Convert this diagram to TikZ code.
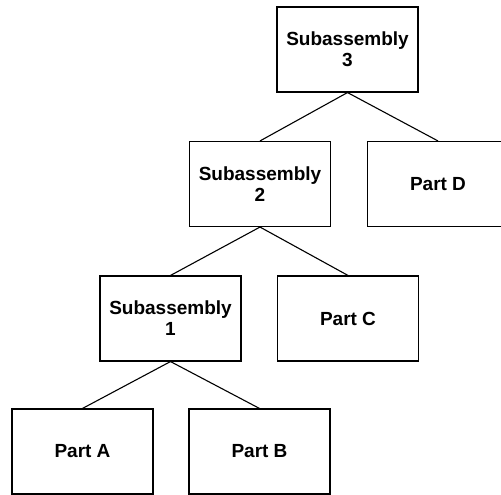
\documentclass[tikz,border=0pt]{standalone}
\usepackage{fontspec}
\setmainfont{Liberation Sans}
\begin{document}
\begin{tikzpicture}[x=1pt,y=-1pt,
  box/.style={draw=black,line width=1.1pt,minimum width=141pt,minimum height=85pt,inner sep=0pt,align=center,font=\fontsize{19}{21}\selectfont\bfseries},
  link/.style={draw=black,line width=1.1pt}]
\useasboundingbox (0,0) rectangle (501,495);
\node[box] (s3) at (347.5,49.5) {Subassembly\\3};
\node[box] (s2) at (260,184) {Subassembly\\2};
\node[box] (pd) at (438,184) {Part D};
\node[box] (s1) at (170.5,318.5) {Subassembly\\1};
\node[box] (pc) at (348,318.5) {Part C};
\node[box] (pa) at (82.5,451.5) {Part A};
\node[box] (pb) at (259.5,451.5) {Part B};
\draw[link] (s3.south) -- (s2.north);
\draw[link] (s3.south) -- (pd.north);
\draw[link] (s2.south) -- (s1.north);
\draw[link] (s2.south) -- (pc.north);
\draw[link] (s1.south) -- (pa.north);
\draw[link] (s1.south) -- (pb.north);
\end{tikzpicture}
\end{document}
